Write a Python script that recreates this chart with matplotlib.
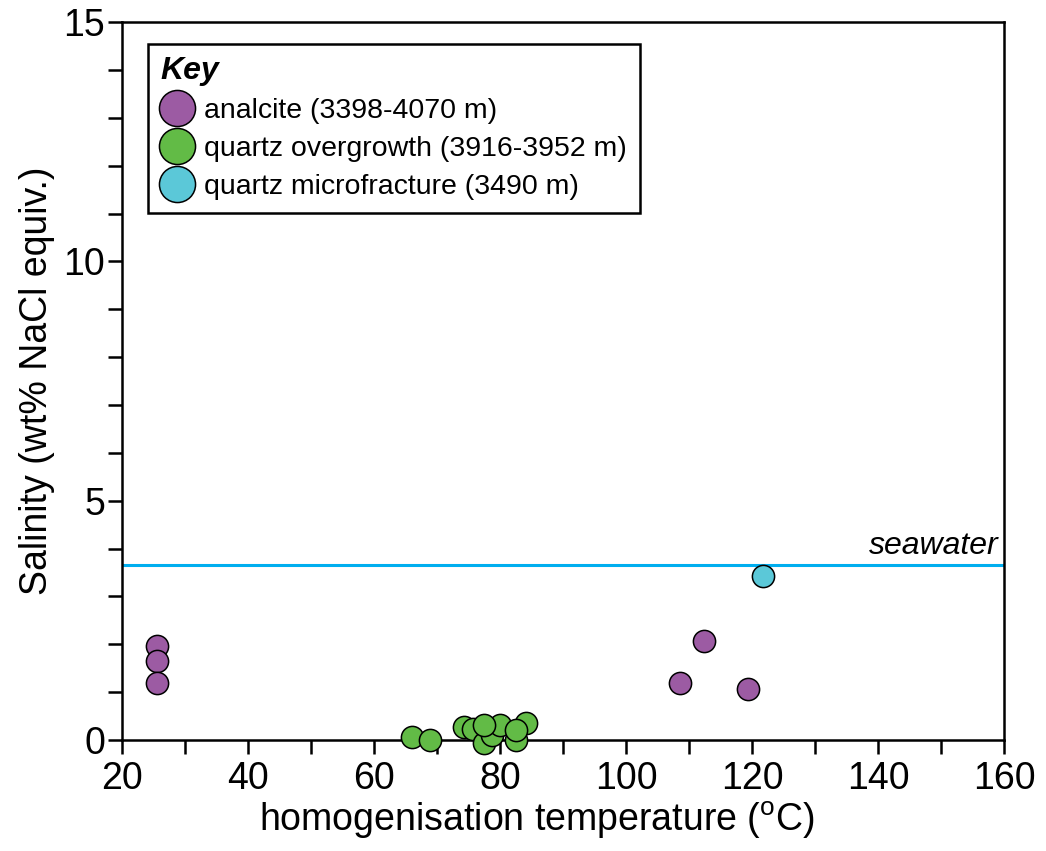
import matplotlib
matplotlib.use("Agg")
import matplotlib.pyplot as plt
from matplotlib.lines import Line2D

plt.rcParams['font.family'] = ['Liberation Sans', 'DejaVu Sans']
plt.rcParams['mathtext.fontset'] = 'custom'
plt.rcParams['mathtext.rm'] = 'Liberation Sans'

# Data
analcite_t = [25.6, 25.6, 25.6, 108.6, 112.4, 119.3]
analcite_s = [1.96, 1.65, 1.20, 1.20, 2.07, 1.07]

qo_t = [66.0, 68.9, 74.3, 75.8, 77.4, 78.7, 80.0, 77.4, 82.6, 84.2, 82.5]
qo_s = [0.07, 0.01, 0.28, 0.24, -0.07, 0.10, 0.31, 0.31, 0.0, 0.35, 0.21]

qm_t = [121.8]
qm_s = [3.43]

seawater = 3.65

purple = '#9c5ba3'
green = '#62bb46'
cyan = '#5bc8d8'
blue_line = '#00aeef'

fig = plt.figure(figsize=(10.46, 8.51), dpi=100)
ax = fig.add_axes([0.1166, 0.1304, 0.8432, 0.8437])

ax.axhline(seawater, color=blue_line, lw=2.2, zorder=2)
ax.text(159.2, seawater + 0.1, 'seawater', style='italic', fontsize=23,
        ha='right', va='bottom')

kw = dict(s=256, edgecolors='black', linewidths=1.1, clip_on=False, zorder=5)
ax.scatter(analcite_t, analcite_s, c=purple, **kw)
ax.scatter(qo_t, qo_s, c=green, **kw)
ax.scatter(qm_t, qm_s, c=cyan, **kw)

ax.set_xlim(20, 160)
ax.set_ylim(0, 15)
ax.set_xticks(range(20, 161, 20))
ax.set_xticks(range(30, 160, 20), minor=True)
ax.set_yticks([0, 5, 10, 15])
ax.set_yticks([y for y in range(16) if y % 5], minor=True)
ax.tick_params(which='both', direction='out', length=10, width=1.8,
               labelsize=27, pad=2)
ax.tick_params(axis='x', pad=5)

for sp in ax.spines.values():
    sp.set_linewidth(1.8)

ax.set_xlabel(r'homogenisation temperature ($^{\mathrm{o}}$C)', fontsize=27)
ax.xaxis.set_label_coords(0.4705, -0.083)
ax.set_ylabel('Salinity (wt% NaCl equiv.)', fontsize=27, labelpad=6)

handles = [
    Line2D([], [], ls='none', marker='o', ms=26, mfc=purple, mec='black', mew=1.1),
    Line2D([], [], ls='none', marker='o', ms=26, mfc=green, mec='black', mew=1.1),
    Line2D([], [], ls='none', marker='o', ms=26, mfc=cyan, mec='black', mew=1.1),
]
labels = ['analcite (3398-4070 m)', 'quartz overgrowth (3916-3952 m)',
          'quartz microfracture (3490 m)']
leg = ax.legend(handles, labels, loc='upper left', bbox_to_anchor=(0.029, 0.97),
                title='Key', alignment='left', fontsize=20.5, title_fontsize=23,
                fancybox=False, edgecolor='black', framealpha=1,
                handlelength=1.2, handletextpad=0.34, labelspacing=0.42,
                borderpad=0.45, borderaxespad=0)
leg.get_title().set_fontweight('bold')
leg.get_title().set_fontstyle('italic')
leg.get_frame().set_linewidth(1.8)
leg.set_zorder(6)

fig.savefig('out.png', dpi=100)
